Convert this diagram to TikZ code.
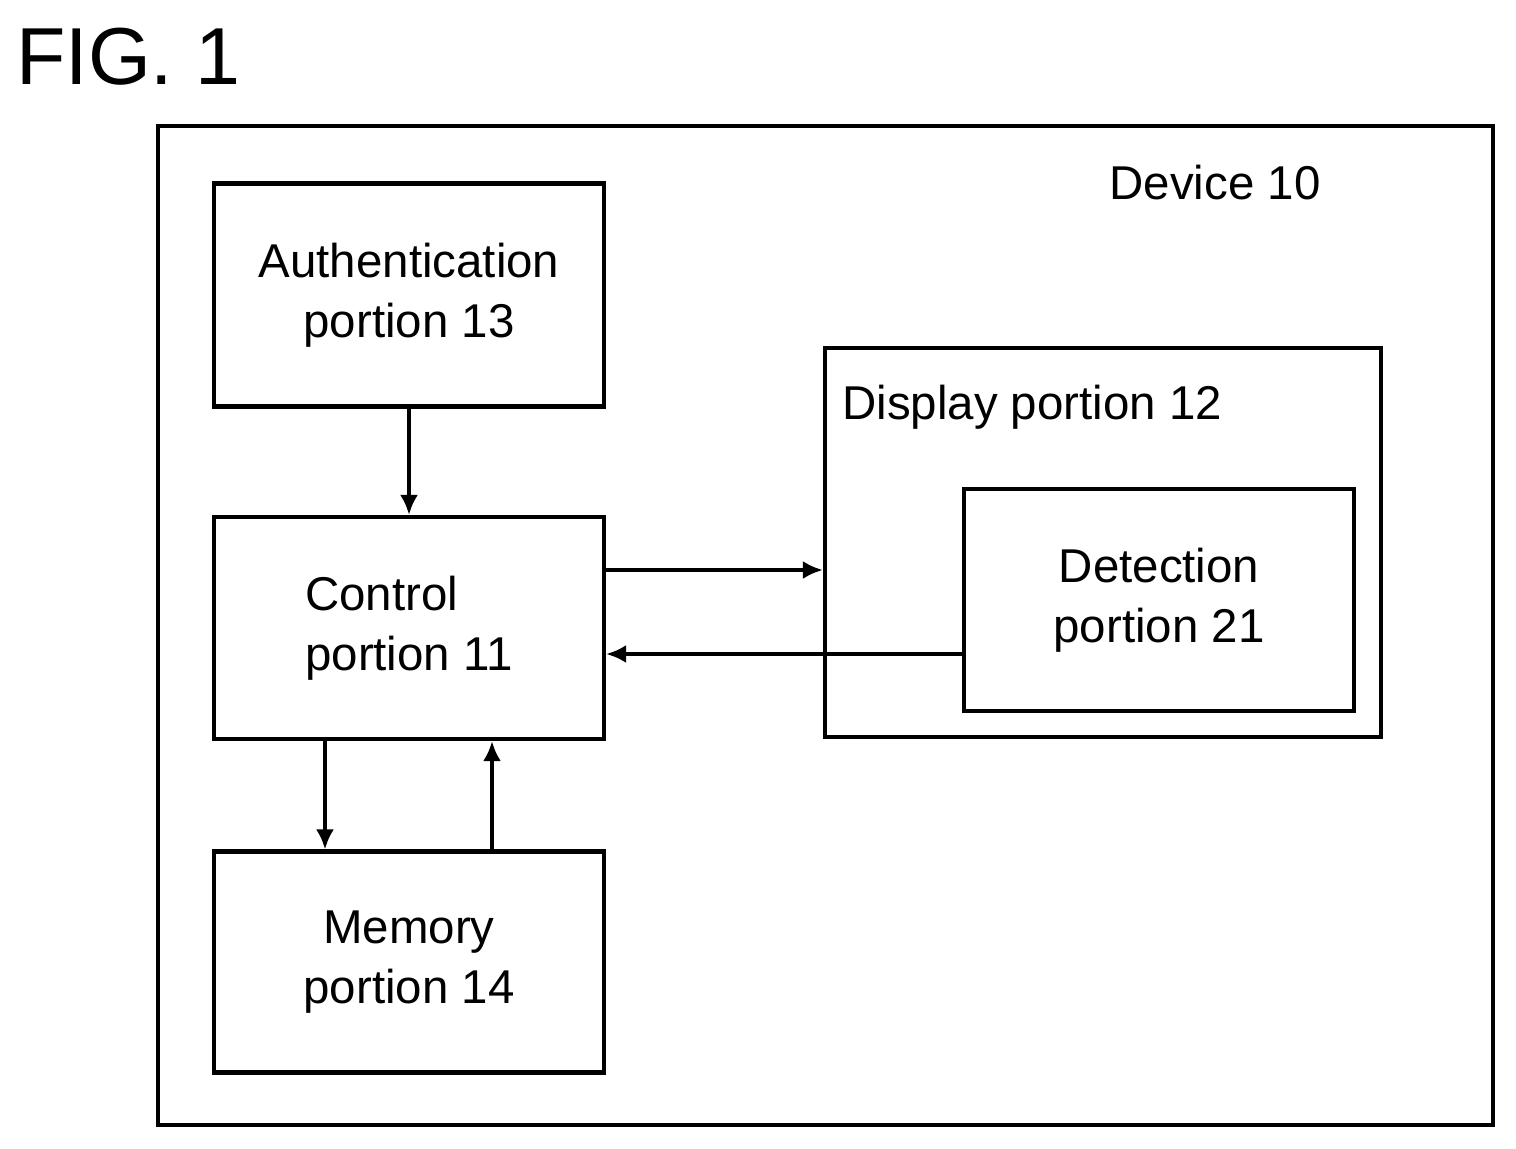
\documentclass[tikz,border=0pt]{standalone}
\usepackage{fontspec}
\setmainfont{Liberation Sans}
\usetikzlibrary{positioning,arrows.meta}
\tikzstyle{blk}=[rectangle, draw=black, line width=2.3pt, inner sep=0pt, font=\fontsize{27}{34}\selectfont]
\tikzstyle{pline}=[-{Latex[length=4mm,width=3.6mm]}, line width=2.3pt]
\begin{document}
\begin{tikzpicture}[x=0.2mm,y=-0.2mm]
\useasboundingbox (0,0) rectangle (1516,1149);

\node [anchor=west, font=\fontsize{46}{54}\selectfont] at (10,57) {FIG. 1};

\node (DEV) [blk, minimum width=267mm, minimum height=199.8mm] at (825.5,625.5) {};
\node [font=\fontsize{27}{34}\selectfont] at (1215,183) {Device 10};

\node (AUTH) [blk, minimum width=78mm, minimum height=44.6mm, align=center] at (409,295) {Authentication\\portion 13};
\node (CTRL) [blk, minimum width=78mm, minimum height=44.4mm, align=left] at (409,628) {Control\\portion 11};
\node (MEM) [blk, minimum width=78mm, minimum height=44.2mm, align=center] at (409,962) {Memory\\portion 14};

\node (DISP) [blk, minimum width=111.2mm, minimum height=77.8mm] at (1103,542.5) {};
\node [anchor=west, font=\fontsize{27}{34}\selectfont] at (836,407) {Display portion 12};
\node (DET) [blk, minimum width=78mm, minimum height=44.4mm, align=center] at (1159,600) {Detection\\portion 21};

\draw[pline] (AUTH.south) -- (CTRL.north);
\draw[pline] (CTRL.east |- 0,570) -- (DISP.west |- 0,570);
\draw[pline] (DET.west |- 0,654) -- (CTRL.east |- 0,654);
\draw[pline] (CTRL.south -| 325,0) -- (MEM.north -| 325,0);
\draw[pline] (MEM.north -| 492,0) -- (CTRL.south -| 492,0);

\end{tikzpicture}
\end{document}
